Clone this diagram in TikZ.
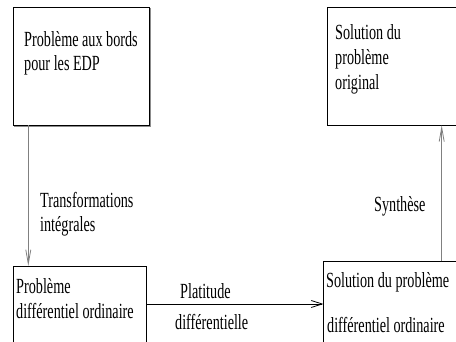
\documentclass[tikz,border=0pt]{standalone}
\usepackage{fontspec}
\setmainfont{Liberation Serif}[FakeStretch=0.657]
\usetikzlibrary{arrows.meta}
\begin{document}
\begin{tikzpicture}[x=1pt,y=-1pt,
  box/.style={draw=black,line width=0.9pt,fill=white},
  shadowbox/.style={draw=black!45,line width=1.4pt},
  txt/.style={anchor=base west,inner sep=0pt,font=\fontsize{21.6}{24}\selectfont},
  grayarrow/.style={draw=black!50,line width=0.9pt,-{Straight Barb[length=14pt,width=5pt,line width=0.8pt]}},
  blackarrow/.style={draw=black,line width=0.9pt,-{Straight Barb[length=11pt,width=7pt,line width=0.8pt]}}]
\clip (0,0) rectangle (456,342);
\fill[white] (0,0) rectangle (456,342);
% box 1 with shadow
\draw[shadowbox] (14.5,8.5) rectangle (150.3,126.8);
\draw[box] (13,7) rectangle (149,125.5);
\coordinate (b1s) at (28.3,125.5);
% boxes
\draw[box] (327,7) rectangle (462,125.3);
\coordinate (b2s) at (441.7,125.3);
\draw[box] (13,266) rectangle (146.5,360);
\coordinate (b3n) at (28.3,266);
\coordinate (b3e) at (146.5,304);
\draw[box] (323.5,261.5) rectangle (470,360);
\coordinate (b4w) at (323.5,304);
\coordinate (b4n) at (441.7,261.5);
% texts
\node[txt] (t1a) at (24,46.7) {Problème aux bords};
\node[txt] (t1b) at (24,70.7) {pour les EDP};
\node[txt] (t2a) at (335,39.3) {Solution du};
\node[txt] (t2b) at (335,64.5) {problème};
\node[txt] (t2c) at (335,89.5) {original};
\node[txt] (t3a) at (16,294) {Problème};
\node[txt] (t3b) at (16,318.5) {différentiel ordinaire};
\node[txt] (t4a) at (326,288) {Solution du problème};
\node[txt] (t4b) at (327,332.5) {différentiel ordinaire};
\node[txt] (l1a) at (40,208) {Transformations};
\node[txt] (l1b) at (40,231.7) {intégrales};
\node[txt] (l2a) at (180,299) {Platitude};
\node[txt] (l2b) at (175,330) {différentielle};
\node[txt] (l3) at (374,212) {Synthèse};
% arrows
\draw[grayarrow] (b1s) -- (b3n);
\draw[blackarrow] (b3e) -- (b4w);
\draw[grayarrow] (b4n) -- (b2s);
\end{tikzpicture}
\end{document}
